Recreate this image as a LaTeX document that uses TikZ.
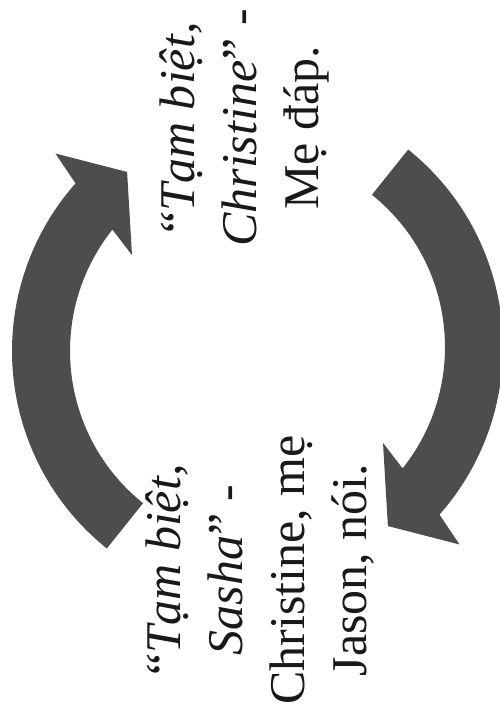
\documentclass[tikz,border=0pt]{standalone}
\usepackage{fontspec}
\setmainfont{Liberation Serif}
\definecolor{arrowgray}{HTML}{4D4D4D}
\begin{document}
\begin{tikzpicture}[x=1pt,y=1pt,
  lbl/.style={rotate=90, align=center, font=\fontsize{50}{62}\selectfont, inner sep=0pt, text=black!90},
  bigarrow/.style={fill=arrowgray, draw=none}]
\useasboundingbox (0,0) rectangle (500,-722);
% left arrow (pointing up)
\begin{scope}[shift={(265,-351)}]
  \fill[bigarrow] (231.3:253) arc[start angle=231.3, end angle=138.5, radius=253]
    -- (136.7:288) -- (127.6:226) -- (144.2:164) -- (141.5:195)
    arc[start angle=141.5, end angle=231.3, radius=195] -- cycle;
\end{scope}
% right arrow (pointing down)
\begin{scope}[shift={(250,-347)}, rotate=180]
  \fill[bigarrow] (231.3:253) arc[start angle=231.3, end angle=138.5, radius=253]
    -- (136.7:288) -- (127.6:226) -- (144.2:164) -- (141.5:195)
    arc[start angle=141.5, end angle=231.3, radius=195] -- cycle;
\end{scope}
\node[lbl] (reply) at (244,-128) {“\textit{Tạm biệt,}\\ \textit{Christine}” -\\ Mẹ đáp.};
\node[lbl] (say) at (260,-570) {“\textit{Tạm biệt,}\\ \textit{Sasha}” -\\ Christine, mẹ\\ Jason, nói.};
\end{tikzpicture}
\end{document}
